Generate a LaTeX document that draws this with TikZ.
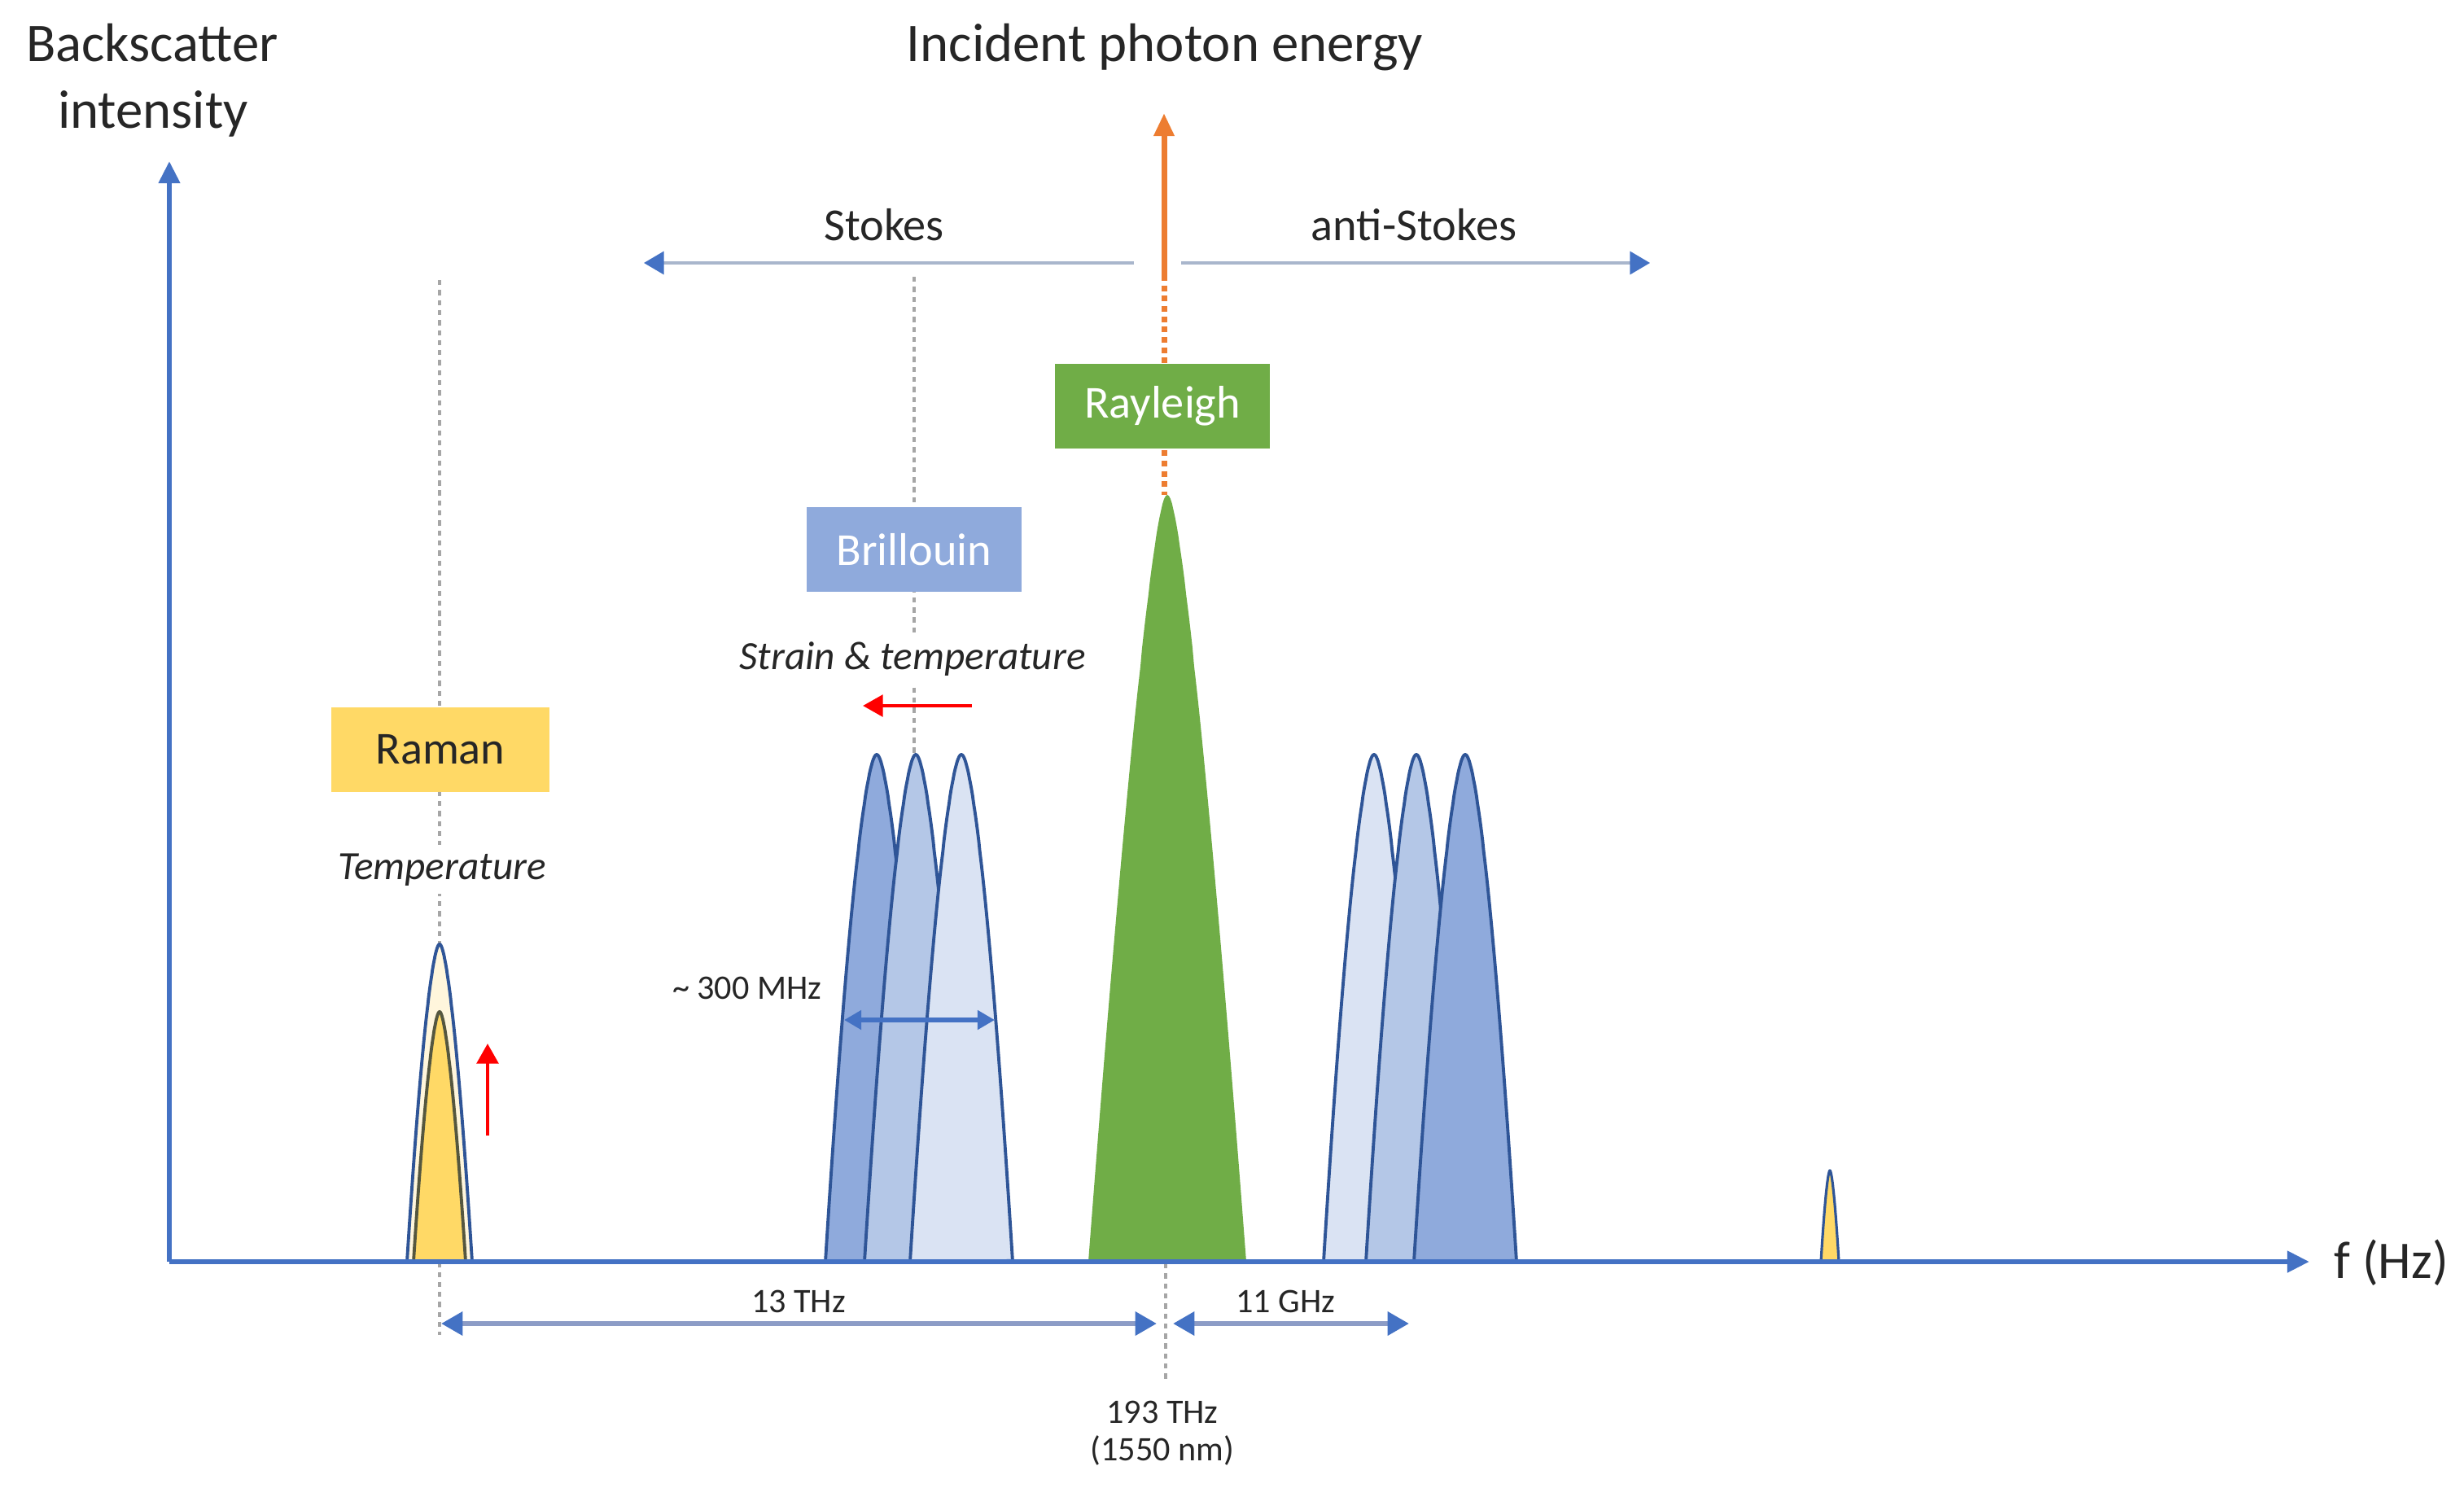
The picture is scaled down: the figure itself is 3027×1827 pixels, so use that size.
\documentclass[tikz,border=0pt]{standalone}
\usepackage{fontspec}
\setmainfont{Carlito}
\usetikzlibrary{arrows.meta}
\definecolor{axisblue}{HTML}{4472C4}
\definecolor{txt}{HTML}{262626}
\definecolor{sline}{HTML}{A9B6CC}
\definecolor{dimline}{HTML}{8C9CC6}
\definecolor{pkdark}{HTML}{8FAADC}
\definecolor{pkmid}{HTML}{B4C7E7}
\definecolor{pklight}{HTML}{DAE3F3}
\definecolor{pkedge}{HTML}{2F5597}
\definecolor{raygreen}{HTML}{70AD47}
\definecolor{ramgold}{HTML}{FFD966}
\definecolor{rampale}{HTML}{FFF6DC}
\definecolor{ramedge}{HTML}{55573F}
\definecolor{brillbox}{HTML}{8FAADC}
\definecolor{incorange}{HTML}{ED7D31}
\definecolor{dotgray}{HTML}{A6A6A6}
\definecolor{redarrow}{HTML}{FF0000}
% #1 style, #2 centre x, #3 half width, #4 top y, #5 half exponent, #6 rounding
\newcommand{\specpeak}[6]{%
  \filldraw[#1] plot[domain=-1:1,samples=101,variable=\t]
    ({#2+#3*\t},{1550-(1550-#4)*(1-((\t*\t+#6)^(#5)-(#6)^(#5))/((1+#6)^(#5)-(#6)^(#5)))}) -- cycle;}
\begin{document}
\begin{tikzpicture}[x=0.01cm,y=-0.01cm,
  big/.style={font=\fontsize{19}{22}\selectfont,text=txt,inner sep=0pt,anchor=base},
  mid/.style={font=\fontsize{16}{19}\selectfont,text=txt,inner sep=0pt,anchor=base},
  itl/.style={font=\fontsize{14}{17}\selectfont\itshape,text=txt,fill=white,inner sep=3pt,anchor=base},
  sml/.style={font=\fontsize{12}{14}\selectfont,text=txt,inner sep=0pt,anchor=base},
  labbox/.style={font=\fontsize{16}{19}\selectfont,minimum height=1.03cm,inner sep=0pt},
  dotline/.style={dotgray,line width=1.2pt,dash pattern=on 1.8pt off 1.7pt},
  axisarrow/.style={axisblue,line width=1.8pt,-{Triangle[length=7.7pt,width=7.2pt]}},
  sidearrow/.style={sline,line width=0.9pt,-{Triangle[length=7pt,width=8pt,color=axisblue]}},
  dimarrow/.style={dimline,line width=1.8pt,{Triangle[length=7.5pt,width=8pt,color=axisblue]}-{Triangle[length=7.5pt,width=8pt,color=axisblue]}},
  redarr/.style={redarrow,line width=1.3pt,-{Triangle[length=7pt,width=7.5pt]}},
  stokespk/.style={draw=pkedge,line width=1.1pt,line join=round},
]
\useasboundingbox (0,0) rectangle (3027,1827);

% named coordinates
\coordinate (origin) at (208,1550);
\coordinate (ytip) at (208,198);
\coordinate (xtip) at (2837,1550);
\coordinate (stA) at (1393,323);
\coordinate (stB) at (791,323);
\coordinate (asA) at (1451,323);
\coordinate (asB) at (2027,323);
\coordinate (orTip) at (1430,139);
\coordinate (orMid) at (1430,338);
\coordinate (orPeak) at (1430,608);
\coordinate (ramTop) at (540,344);
\coordinate (ramBot) at (540,1640);
\coordinate (briTop) at (1123,340);
\coordinate (briBot) at (1123,930);
\coordinate (cenTop) at (1432,1552);
\coordinate (cenBot) at (1432,1697);
\coordinate (rvA) at (599,1395);
\coordinate (rvB) at (599,1282);
\coordinate (rhA) at (1194,867);
\coordinate (rhB) at (1060,867);
\coordinate (mhzA) at (1037,1253);
\coordinate (mhzB) at (1222,1253);
\coordinate (thzA) at (542,1626);
\coordinate (thzB) at (1421,1626);
\coordinate (ghzA) at (1441,1626);
\coordinate (ghzB) at (1731,1626);

% dotted guide lines
\draw[dotline] (ramTop) -- (ramBot);
\draw[dotline] (briTop) -- (briBot);
\draw[dotline] (cenTop) -- (cenBot);
\draw[incorange,line width=2pt,dash pattern=on 2pt off 1.6pt] (orMid) -- (orPeak);

% Raman peaks
\specpeak{draw=pkedge,fill=rampale,line width=1.1pt}{540}{40}{1160}{0.8}{0.006}
\specpeak{draw=ramedge,fill=ramgold,line width=1.1pt}{540}{32}{1243}{0.8}{0.006}
% small anti-Stokes Raman peak
\specpeak{draw=pkedge,fill=ramgold,line width=0.9pt}{2248}{11}{1438}{0.8}{0.006}

% Stokes Brillouin peaks
\specpeak{stokespk,fill=pkdark}{1077}{63}{927}{0.8}{0.006}
\specpeak{stokespk,fill=pkmid}{1125}{63}{927}{0.8}{0.006}
\specpeak{stokespk,fill=pklight}{1181}{63}{927}{0.8}{0.006}
% anti-Stokes Brillouin peaks
\specpeak{stokespk,fill=pklight}{1688}{62}{927}{0.8}{0.006}
\specpeak{stokespk,fill=pkmid}{1740}{62}{927}{0.8}{0.006}
\specpeak{stokespk,fill=pkdark}{1800}{63}{927}{0.8}{0.006}

% Rayleigh peak
\specpeak{fill=raygreen,draw=none}{1434}{97}{608}{0.65}{0.01}

% axes
\draw[axisarrow] (origin) -- (ytip);
\draw[axisarrow] (origin) -- (xtip);

% Stokes / anti-Stokes arrows
\draw[sidearrow] (stA) -- (stB);
\draw[sidearrow] (asA) -- (asB);

% incident photon arrow
\draw[incorange,line width=2pt,-{Triangle[length=8pt,width=6.8pt]}] (orMid) -- (orTip);

% red arrows
\draw[redarr] (rvA) -- (rvB);
\draw[redarr] (rhA) -- (rhB);

% dimension arrows
\draw[axisblue,line width=1.5pt,{Triangle[length=6pt,width=6.5pt]}-{Triangle[length=6pt,width=6.5pt]}] (mhzA) -- (mhzB);
\draw[dimarrow] (thzA) -- (thzB);
\draw[dimarrow] (ghzA) -- (ghzB);

% boxes
\node[labbox,fill=raygreen,text=white,minimum width=2.63cm] (ray) at (1428,499) {Rayleigh};
\node[labbox,fill=brillbox,text=white,minimum width=2.64cm] (bri) at (1123,675) {Brillouin};
\node[labbox,fill=ramgold,text=txt,minimum width=2.67cm] (ram) at (541,921) {Raman};

% texts
\node[big] (bs) at (187,75) {Backscatter};
\node[big] (bi) at (188,157) {intensity};
\node[big] (inc) at (1431,75) {Incident photon energy};
\node[mid] (sto) at (1086,295) {Stokes};
\node[mid] (ast) at (1737,295) {anti-Stokes};
\node[big,font=\fontsize{18.5}{22}\selectfont,anchor=base west] (fhz) at (2867,1570) {f (Hz)};
\node[itl] (tmp) at (543,1080) {Temperature};
\node[itl] (stt) at (1121,822) {Strain \& temperature};
\node[sml,anchor=base east] (mhz) at (1010,1227) {\textasciitilde\ 300 MHz};
\node[sml] (thz) at (981,1612) {13 THz};
\node[sml] (ghz) at (1579,1612) {11 GHz};
\node[sml] (f193) at (1428,1748) {193 THz};
\node[sml] (nm) at (1428,1794) {(1550 nm)};
\end{tikzpicture}
\end{document}
